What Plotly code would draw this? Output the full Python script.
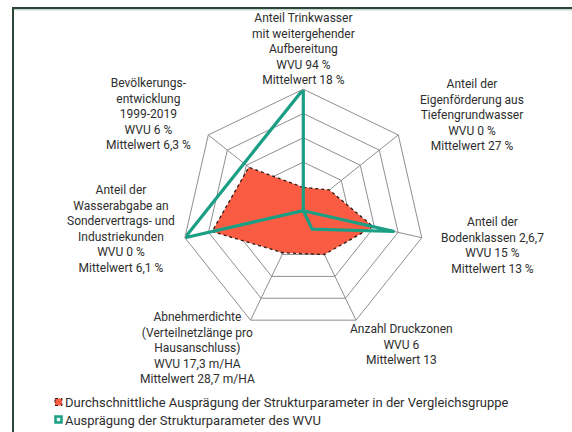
import plotly.graph_objects as go

W, H = 572, 432

categories = [
    "Anteil Trinkwasser mit weitergehender Aufbereitung",
    "Anteil der Eigenförderung aus Tiefengrundwasser",
    "Anteil der Bodenklassen 2,6,7",
    "Anzahl Druckzonen",
    "Abnehmerdichte",
    "Anteil der Wasserabgabe an Sondervertrags- und Industriekunden",
    "Bevölkerungsentwicklung 1999-2019",
]
mittelwert = [0.96, 1.37, 2.95, 2.0, 1.92, 3.85, 2.87]
wvu = [5.0, 0.0, 3.85, 0.84, 0.0, 5.0, 3.12]

axis_labels = [
    "Anteil Trinkwasser<br>mit weitergehender<br>Aufbereitung<br>WVU 94 %<br>Mittelwert 18 %",
    "Anteil der<br>Eigenförderung aus<br>Tiefengrundwasser<br>WVU 0 %<br>Mittelwert 27 %",
    "Anteil der<br>Bodenklassen 2,6,7<br>WVU 15 %<br>Mittelwert 13 %",
    "Anzahl Druckzonen<br>WVU 6<br>Mittelwert 13",
    "Abnehmerdichte<br>(Verteilnetzlänge pro<br>Hausanschluss)<br>WVU 17,3 m/HA<br>Mittelwert 28,7 m/HA",
    "Anteil der<br>Wasserabgabe an<br>Sondervertrags- und<br>Industriekunden<br>WVU 0 %<br>Mittelwert 6,1 %",
    "Bevölkerungs-<br>entwicklung<br>1999-2019<br>WVU 6 %<br>Mittelwert 6,3 %",
]
# label centre positions in pixels (x, y)
label_pos = [(303, 49), (472, 115), (492, 245), (401, 344), (197, 348), (121, 229), (148, 114)]

legend_names = [
    "Durchschnittliche Ausprägung der Strukturparameter in der Vergleichsgruppe",
    "Ausprägung der Strukturparameter des WVU",
]

ORANGE = "#fa5c43"
TEAL = "#1a9e84"
GRID = "#8f8f8f"
TXT = "#2e2e2e"
FONT = "Roboto"

theta_closed = categories + [categories[0]]

fig = go.Figure()
fig.add_trace(go.Scatterpolar(
    r=mittelwert + [mittelwert[0]], theta=theta_closed,
    fill="toself", fillcolor=ORANGE,
    line=dict(color="#2a1a16", width=1.3, dash="dot"),
    mode="lines", name=legend_names[0], showlegend=False,
))
fig.add_trace(go.Scatterpolar(
    r=wvu + [wvu[0]], theta=theta_closed,
    line=dict(color=TEAL, width=3.2),
    mode="lines", name=legend_names[1], showlegend=False,
))

def px(x):
    return x / W

def py(y):
    return 1 - y / H

cx, cy, R = 303.3, 210.7, 121.5

annotations = []
for txt, (x, y) in zip(axis_labels, label_pos):
    annotations.append(dict(
        x=px(x), y=py(y), xref="paper", yref="paper",
        text=txt, showarrow=False, xanchor="center", yanchor="middle",
        align="center", font=dict(family=FONT, size=12, color=TXT),
    ))

legend_y = [402, 420]
for name, y in zip(legend_names, legend_y):
    annotations.append(dict(
        x=px(63), y=py(y), xref="paper", yref="paper",
        text=name, showarrow=False, xanchor="left", yanchor="middle",
        align="left", font=dict(family=FONT, size=13, color=TXT),
    ))

shapes = [
    # frame
    dict(type="line", xref="paper", yref="paper", x0=px(13), x1=px(13), y0=py(8), y1=0,
         line=dict(color="#2b4536", width=2)),
    dict(type="line", xref="paper", yref="paper", x0=px(12), x1=1, y0=py(8), y1=py(8),
         line=dict(color="#2b4536", width=2)),
    dict(type="line", xref="paper", yref="paper", x0=px(14), x1=1, y0=py(9.8), y1=py(9.8),
         line=dict(color="#a9c4b8", width=1)),
    # legend keys
    dict(type="rect", xref="paper", yref="paper", x0=px(55), x1=px(62), y0=py(398.5), y1=py(405.5),
         fillcolor=ORANGE, line=dict(color="#2a1a16", width=1, dash="dot")),
    dict(type="rect", xref="paper", yref="paper", x0=px(55.5), x1=px(61.5), y0=py(416.5), y1=py(422.5),
         fillcolor="#e8f6f2", line=dict(color=TEAL, width=2.5)),
]

fig.update_layout(
    width=W, height=H,
    margin=dict(l=0, r=0, t=0, b=0),
    paper_bgcolor="white", plot_bgcolor="white",
    showlegend=False,
    polar=dict(
        domain=dict(x=[(cx - R) / W, (cx + R) / W], y=[1 - (cy + R) / H, 1 - (cy - R) / H]),
        bgcolor="white",
        gridshape="linear",
        radialaxis=dict(range=[0, 5], dtick=1, showticklabels=False, ticks="",
                        showline=False, gridcolor=GRID, gridwidth=1),
        angularaxis=dict(rotation=90, direction="clockwise", showticklabels=False, ticks="",
                         gridcolor=GRID, gridwidth=1, linecolor=GRID, linewidth=1, showline=True),
    ),
    annotations=annotations,
    shapes=shapes,
)

fig.write_html(
    "out.html",
    config={"displayModeBar": False},
    post_script="document.body.style.margin='0px';document.body.style.padding='0px';",
)
